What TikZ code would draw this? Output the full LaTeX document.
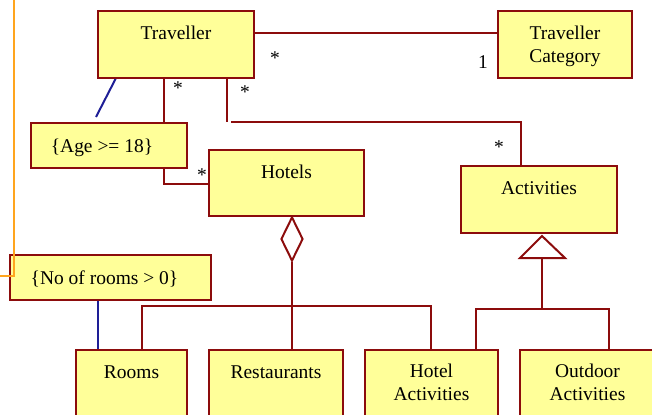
\documentclass[tikz,border=0pt]{standalone}
\usepackage{fontspec}
\setmainfont{Liberation Serif}
\usetikzlibrary{calc,shapes.geometric}
\definecolor{boxfill}{RGB}{255,255,153}
\definecolor{boxline}{RGB}{140,12,12}
\definecolor{noteblue}{RGB}{30,30,150}
\definecolor{orangeline}{RGB}{255,165,30}
\pgfdeclarelayer{bg}
\pgfsetlayers{bg,main}
\begin{document}
\begin{tikzpicture}[x=0.75pt,y=-0.75pt,
  cls/.style={draw=boxline, fill=boxfill, line width=1.5pt, inner sep=0pt, outer sep=0pt, anchor=north west},
  sz/.style 2 args={minimum width=#1*0.75pt, minimum height=#2*0.75pt},
  txt/.style={font=\fontsize{14.6}{17.25}\selectfont, inner sep=0pt, anchor=base, align=center},
  assoc/.style={draw=boxline, line width=1.5pt},
  noteline/.style={draw=noteblue, line width=1.5pt},
]
\useasboundingbox (0,0) rectangle (652,414);
\clip (0,0) rectangle (652,414);
% classes
\node[cls, sz={156}{67}] (trav) at (98,11) {};
\node[cls, sz={134}{67}] (tc) at (498,11) {};
\node[cls, sz={156}{45}] (age) at (31,123) {};
\node[cls, sz={155}{66}] (hot) at (209,150) {};
\node[cls, sz={156}{67}] (act) at (461,166) {};
\node[cls, sz={201}{45}] (norooms) at (10,255) {};
\node[cls, sz={111}{100}] (rooms) at (76,350) {};
\node[cls, sz={134}{100}] (rest) at (209,350) {};
\node[cls, sz={133}{100}] (hact) at (365,350) {};
\node[cls, sz={135}{100}] (oact) at (520,350) {};
% texts (base anchor = baseline of the last line)
\node[txt] (travT) at ($(trav.north)+(0,28)$) {Traveller};
\node[txt] (tcT) at ($(tc.north)+(0,51)$) {Traveller\\Category};
\node[txt] (ageT) at ($(age.north)+(-7,29)$) {\{Age >= 18\}};
\node[txt] (hotT) at ($(hot.north)+(0,28)$) {Hotels};
\node[txt] (actT) at ($(act.north)+(0,28)$) {Activities};
\node[txt] (noroomsT) at ($(norooms.north)+(-6,29)$) {\{No of rooms > 0\}};
\node[txt] (roomsT) at ($(rooms.north)+(0,28)$) {Rooms};
\node[txt] (restT) at ($(rest.north)+(0,28)$) {Restaurants};
\node[txt] (hactT) at ($(hact.north)+(0,50)$) {Hotel\\Activities};
\node[txt] (oactT) at ($(oact.north)+(0,50)$) {Outdoor\\Activities};
% aggregation diamond
\node[diamond, draw=boxline, fill=white, line width=1.5pt, inner sep=0pt, minimum width=22*0.75pt, minimum height=44*0.75pt] (agg) at (292,239) {};
% generalization triangle
\draw[assoc, fill=white] ($(act.south)+(3,3)$) coordinate (genapex) -- ++(23,22) -- ++(-45,0) -- cycle;
\coordinate (genbase) at ($(genapex)+(0,22)$);
\begin{pgfonlayer}{bg}
  \draw[assoc] ($(trav.north east)+(0,22)$) -- ($(tc.north west)+(0,22)$);
  \draw[assoc] ($(trav.south west)+(66,0)$) |- ($(hot.north west)+(0,34)$);
  \draw[assoc] ($(trav.south west)+(129,0)$) -- ++(0,44);
  \draw[assoc] ($(trav.south west)+(133,44)$) -| ($(act.north west)+(60,0)$);
  \draw[noteline] ($(trav.south west)+(18,0)$) -- ($(age.north west)+(65,-6)$);
  \draw[assoc] (agg.south) -- (agg.south |- rest.north);
  \draw[assoc] ($(rooms.north west)+(66,0)$) |- ($(hact.north west)+(66,-44)$) -- ($(hact.north west)+(66,0)$);
  \draw[assoc] (genbase) -- ++(0,51);
  \draw[assoc] ($(hact.north west)+(111,0)$) |- ($(oact.north west)+(89,-41)$) -- ($(oact.north west)+(89,0)$);
  \draw[noteline] ($(norooms.south west)+(88,0)$) -- ($(rooms.north west)+(22,0)$);
\end{pgfonlayer}
% multiplicities
\node[txt] (m1) at (275,64) {*};
\node[txt] (m2) at (483,68) {1};
\node[txt] (m3) at (178,94) {*};
\node[txt] (m4) at (202,181) {*};
\node[txt] (m5) at (245,98) {*};
\node[txt] (m6) at (499,153) {*};
% orange stray line
\coordinate (otop) at (14,0);
\coordinate (oend) at (0,276);
\draw[orangeline, line width=1.1pt] (otop) |- (oend);
\end{tikzpicture}
\end{document}
